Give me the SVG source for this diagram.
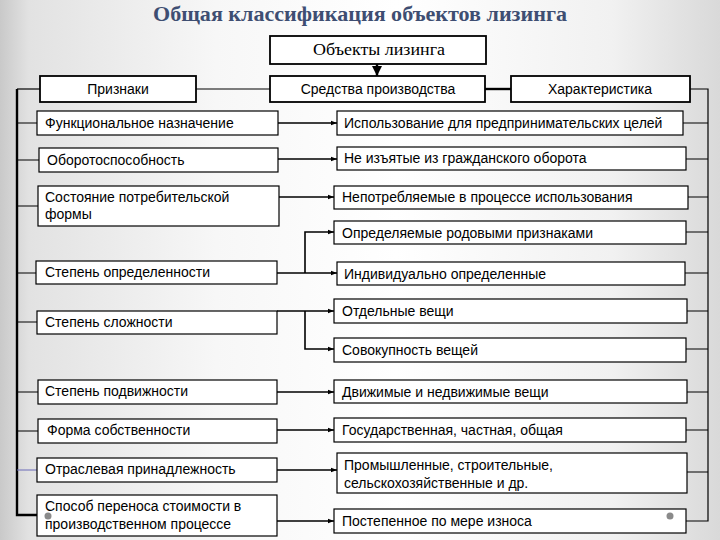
<svg xmlns="http://www.w3.org/2000/svg" width="720" height="540" viewBox="0 0 720 540">
<defs>
<linearGradient id="bg" x1="0" y1="0" x2="1" y2="0">
<stop offset="0" stop-color="#c9c9c9"/>
<stop offset="0.04" stop-color="#e2e2e2"/>
<stop offset="0.3" stop-color="#f7f7f7"/>
<stop offset="0.55" stop-color="#ffffff"/>
<stop offset="0.85" stop-color="#f1f1f1"/>
<stop offset="1" stop-color="#d9d9d9"/>
</linearGradient>
<marker id="ah" markerWidth="6" markerHeight="6" refX="6" refY="3" orient="auto" markerUnits="userSpaceOnUse">
<path d="M0,0.8 L6,3 L0,5.2 z" fill="#000"/>
</marker>
<marker id="ahb" markerWidth="10" markerHeight="10" refX="10" refY="5" orient="auto" markerUnits="userSpaceOnUse">
<path d="M0,0 L10,5 L0,10 z" fill="#000"/>
</marker>
</defs>
<style>
.box{fill:#fff;stroke:#000;stroke-width:1.2}
.hbox{fill:#fff;stroke:#000;stroke-width:1.8}
.t{font-family:"Liberation Sans",Arial,sans-serif;font-size:14px;fill:#000}
.hc{text-anchor:middle}
.ln{fill:none;stroke:#000;stroke-width:1.2}
.thick{fill:none;stroke:#000;stroke-width:2.4}
.arr{fill:none;stroke:#000;stroke-width:1.6;marker-end:url(#ah)}
.dot{fill:#8a8a8a}
</style>
<rect x="0" y="0" width="720" height="540" fill="url(#bg)"/>
<text x="153" y="21" textLength="414" lengthAdjust="spacingAndGlyphs" font-family="'Liberation Serif','Times New Roman',serif" font-size="21" font-weight="bold" fill="#3e4e72">Общая классификация объектов лизинга</text>

<g id="connectors">
<path class="thick" d="M377,64 V76" marker-end="url(#ahb)"/>
<path class="ln" d="M196,89 H270"/>
<path class="thick" d="M485,89 H511"/>
<path class="ln" d="M40,89 H17"/>
<path class="thick" d="M17,89 V515 H37"/>
<path class="ln" d="M17,123 H37 M17,160 H39 M17,206 H38 M17,273 H36 M17,322 H37 M17,392 H38 M17,431 H38"/>
<path d="M17,470 H37" fill="none" stroke="#6a6ab8" stroke-width="1"/>
<path class="ln" d="M690,89 H708 V521 H686"/>
<path class="ln" d="M683,123 H708 M686,159 H708 M688,197 H708 M686,232 H708 M685,273 H708 M687,311 H708 M686,349 H708 M687,392 H708 M686,430 H708 M687,472 H708"/>
<path class="arr" d="M278,123 H337"/>
<path class="arr" d="M278,159 H337"/>
<path class="arr" d="M279,197 H334"/>
<path class="arr" d="M305,273 V232 H334"/>
<path class="arr" d="M277,273 H337"/>
<path class="arr" d="M277,311 H334"/>
<path class="arr" d="M305,311 V349 H334"/>
<path class="arr" d="M277,392 H334"/>
<path class="arr" d="M277,430 H334"/>
<path class="arr" d="M277,470 H337"/>
<path class="arr" d="M277,521 H334"/>
</g>

<g id="n-objects"><rect class="hbox" x="270" y="36" width="216" height="28"/><text x="313" y="55" textLength="132" lengthAdjust="spacingAndGlyphs" font-family="'Liberation Serif','Times New Roman',serif" font-size="16">Объекты лизинга</text></g>
<g id="n-priznaki"><rect class="hbox" x="40" y="76" width="156" height="26"/><text class="t hc" x="118" y="94">Признаки</text></g>
<g id="n-sredstva"><rect class="hbox" x="270" y="76" width="215" height="26"/><text class="t hc" x="378" y="94">Средства производства</text></g>
<g id="n-harakt"><rect class="hbox" x="511" y="76" width="179" height="26"/><text class="t hc" x="600" y="94">Характеристика</text></g>

<g id="n-l1"><rect class="box" x="37" y="111" width="241" height="24"/><text class="t" x="45" y="128">Функциональное назначение</text></g>
<g id="n-l2"><rect class="box" x="39" y="148" width="239" height="24"/><text class="t" x="47" y="165">Оборотоспособность</text></g>
<g id="n-l3"><rect class="box" x="38" y="186" width="241" height="40"/><text class="t" x="45" y="202">Состояние потребительской</text><text class="t" x="45" y="219">формы</text></g>
<g id="n-l4"><rect class="box" x="36" y="261" width="241" height="23"/><text class="t" x="45" y="277">Степень определенности</text></g>
<g id="n-l5"><rect class="box" x="37" y="311" width="240" height="23"/><text class="t" x="45" y="327">Степень сложности</text></g>
<g id="n-l6"><rect class="box" x="38" y="380" width="239" height="24"/><text class="t" x="45" y="396">Степень подвижности</text></g>
<g id="n-l7"><rect class="box" x="38" y="419" width="239" height="24"/><text class="t" x="47" y="435">Форма собственности</text></g>
<g id="n-l8"><rect class="box" x="37" y="458" width="240" height="24"/><text class="t" x="45" y="474">Отраслевая принадлежность</text></g>
<g id="n-l9"><rect class="box" x="37" y="495" width="240" height="41"/><text class="t" x="45" y="511">Способ переноса стоимости в</text><text class="t" x="45" y="529">производственном процессе</text></g>

<g id="n-r1"><rect class="box" x="337" y="111" width="346" height="24"/><text class="t" x="344" y="128">Использование для предпринимательских целей</text></g>
<g id="n-r2"><rect class="box" x="337" y="147" width="349" height="23"/><text class="t" x="344" y="163">Не изъятые из гражданского оборота</text></g>
<g id="n-r3"><rect class="box" x="334" y="186" width="354" height="23"/><text class="t" x="342" y="202">Непотребляемые в процессе использования</text></g>
<g id="n-r4"><rect class="box" x="334" y="221" width="352" height="23"/><text class="t" x="342" y="238">Определяемые родовыми признаками</text></g>
<g id="n-r5"><rect class="box" x="337" y="262" width="348" height="23"/><text class="t" x="344" y="279">Индивидуально определенные</text></g>
<g id="n-r6"><rect class="box" x="334" y="299" width="353" height="24"/><text class="t" x="342" y="316">Отдельные вещи</text></g>
<g id="n-r7"><rect class="box" x="334" y="338" width="352" height="24"/><text class="t" x="342" y="355">Совокупность вещей</text></g>
<g id="n-r8"><rect class="box" x="334" y="380" width="353" height="23"/><text class="t" x="342" y="397">Движимые и недвижимые вещи</text></g>
<g id="n-r9"><rect class="box" x="334" y="418" width="352" height="24"/><text class="t" x="342" y="435">Государственная, частная, общая</text></g>
<g id="n-r10"><rect class="box" x="337" y="453" width="350" height="40"/><text class="t" x="344" y="470">Промышленные, строительные,</text><text class="t" x="344" y="488">сельскохозяйственные и др.</text></g>
<g id="n-r11"><rect class="box" x="334" y="509" width="352" height="24"/><text class="t" x="342" y="526">Постепенное по мере износа</text></g>

<circle class="dot" cx="48" cy="516" r="3.5"/>
<circle class="dot" cx="670" cy="516" r="3.5"/>
</svg>
